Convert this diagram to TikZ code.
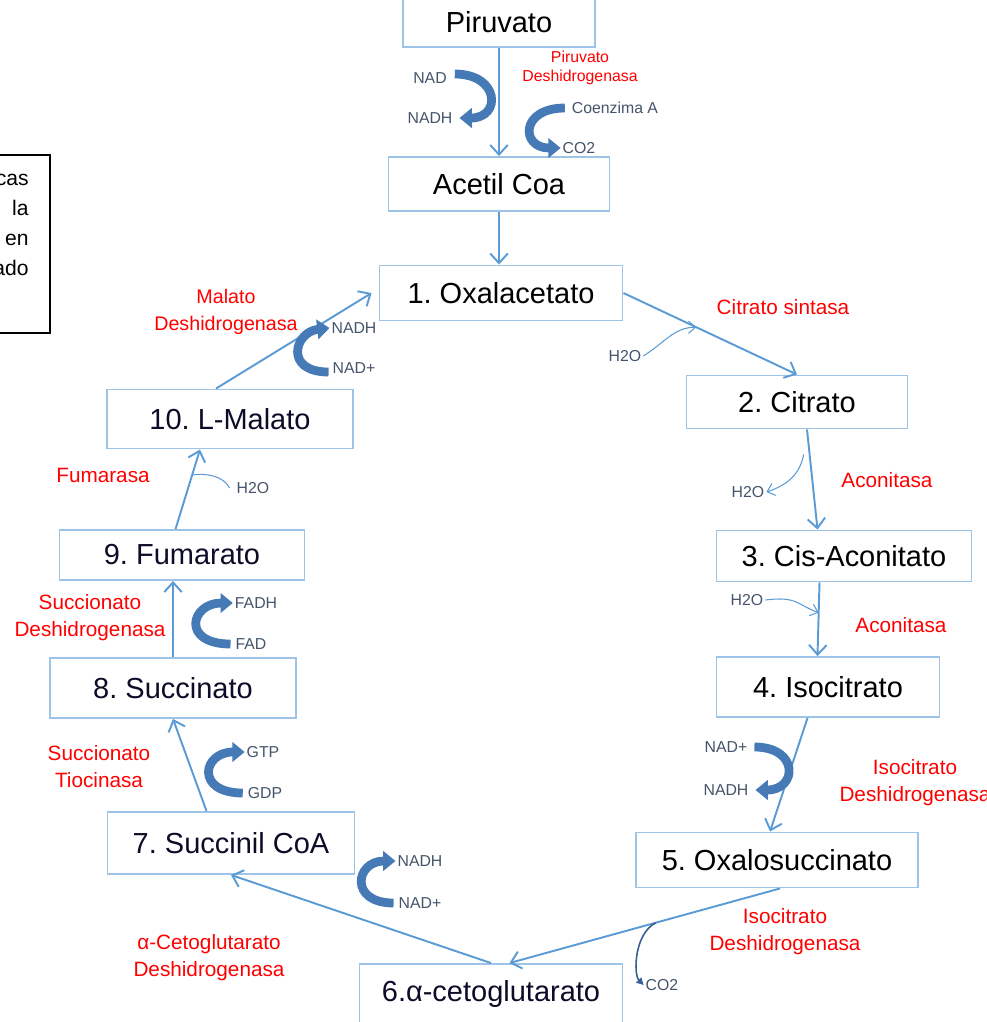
\documentclass[tikz,border=0pt]{standalone}
\usepackage{fontspec}
\setmainfont{Liberation Sans}
\usepackage{xcolor}
\usetikzlibrary{arrows.meta,calc}

\definecolor{borde}{RGB}{157,195,230}
\definecolor{linea}{RGB}{91,155,213}
\definecolor{gruesa}{RGB}{70,122,182}
\definecolor{oscuro}{RGB}{55,96,146}
\definecolor{gris}{RGB}{68,84,106}
\definecolor{tinta}{RGB}{12,12,40}

\tikzset{
 caja/.style={draw=borde, line width=1.1pt, inner sep=0pt, font=\fontsize{16.5}{20}\selectfont},
 enzima/.style={text=red, font=\fontsize{11.8}{15.3}\selectfont, align=center},
 etiq/.style={text=gris, font=\fontsize{9}{11}\selectfont, inner sep=1pt},
 flecha/.style={linea, line width=1.1pt, -{Straight Barb[width=10pt,length=5.5pt]}},
 fina/.style={linea, line width=0.6pt, -{Straight Barb[width=7pt,length=4pt]}},
 giro/.style={gruesa, line width=5pt, -{Triangle[width=11pt,length=7pt]}},
}

\begin{document}
\frenchspacing
\begin{tikzpicture}[x=0.02cm,y=-0.02cm]
 \useasboundingbox (0,0) rectangle (987,1022);

 % nota de la izquierda
 \draw[line width=0.8pt] (-10,155) rectangle (50,333);
 \node[anchor=east, align=right, inner sep=0pt, font=\fontsize{12}{17}\selectfont] (nota) at (29,225) {cas\\la\\en\\ado};

 % cajas
 \node[caja, minimum width=3.84cm, minimum height=1.0cm] (piruvato) at (499,22) {Piruvato};
 \node[caja, minimum width=4.42cm, minimum height=1.08cm] (acetil) at (499,184) {Acetil Coa};
 \node[caja, minimum width=4.86cm, minimum height=1.1cm] (oxal) at (501,293) {1. Oxalacetato};
 \node[caja, minimum width=4.42cm, minimum height=1.06cm] (citr) at (797,402) {2. Citrato};
 \node[caja, minimum width=5.1cm, minimum height=1.02cm] (cis) at (844,556) {3. Cis-Aconitato};
 \node[caja, minimum width=4.46cm, minimum height=1.2cm] (iso) at (828,687) {4. Isocitrato};
 \node[caja, minimum width=5.64cm, minimum height=1.1cm] (oxs) at (777,860) {5. Oxalosuccinato};
 \node[caja, text=tinta, minimum width=5.26cm, minimum height=1.2cm] (ceto) at (491,994) {6.α-cetoglutarato};
 \node[caja, text=tinta, minimum width=4.94cm, minimum height=1.24cm] (scoa) at (231,843) {7. Succinil CoA};
 \node[caja, text=tinta, minimum width=4.92cm, minimum height=1.2cm] (succ) at (173,688) {8. Succinato};
 \node[caja, text=tinta, minimum width=4.9cm, minimum height=1.0cm] (fum) at (182,555) {9. Fumarato};
 \node[caja, text=tinta, minimum width=4.92cm, minimum height=1.18cm] (mal) at (230,419) {10. L-Malato};

 % ciclo
 \draw[flecha] (piruvato.south) -- (piruvato.south |- acetil.north);
 \draw[flecha] (acetil.south) -- (acetil.south |- oxal.north);
 \draw[flecha] (oxal.east) -- (citr.north);
 \draw[flecha] ([xshift=0.2cm]citr.south) -- ([xshift=-0.53cm]cis.north);
 \draw[flecha] ([xshift=-0.49cm]cis.south) -- ([xshift=-0.21cm]iso.north);
 \draw[flecha] ([xshift=-0.41cm]iso.south) -- ([xshift=-0.14cm]oxs.north);
 \draw[flecha] ([xshift=0.06cm]oxs.south) -- ([xshift=0.37cm]ceto.north);
 \draw[flecha] (ceto.north) -- (scoa.south);
 \draw[flecha] ([xshift=-0.49cm]scoa.north) -- (succ.south);
 \draw[flecha] (succ.north) -- (succ.north |- fum.south);
 \draw[flecha] ([xshift=-0.13cm]fum.north) -- ([xshift=-0.6cm]mal.south);
 \draw[flecha] ([xshift=-0.28cm]mal.north) -- ([xshift=-0.14cm]oxal.west);

 % enzimas
 \node[enzima, font=\fontsize{9}{10.5}\selectfont] (pdh) at (580,68) {Piruvato\\Deshidrogenasa};
 \node[enzima] (cs) at (783,307) {Citrato sintasa};
 \node[enzima] (acon1) at (887,480) {Aconitasa};
 \node[enzima] (acon2) at (901,625) {Aconitasa};
 \node[enzima] (idh1) at (915,783) {Isocitrato\\Deshidrogenasa};
 \node[enzima] (idh2) at (785,932) {Isocitrato\\Deshidrogenasa};
 \node[enzima] (akg) at (209,958) {α-Cetoglutarato\\Deshidrogenasa};
 \node[enzima] (stk) at (99,767) {Succionato\\Tiocinasa};
 \node[enzima] (sdh) at (90,618) {Succionato\\Deshidrogenasa};
 \node[enzima] (fumasa) at (103,475) {Fumarasa};
 \node[enzima, font=\fontsize{11.2}{15.3}\selectfont] (mdh) at (226,312) {Malato\\Deshidrogenasa};

 % cofactores
 \node[etiq] (nad1) at (430,78) {NAD};
 \node[etiq] (nadh1) at (430,118) {NADH};
 \node[etiq] (coa) at (615,108) {Coenzima A};
 \node[etiq] (co2a) at (579,148) {CO2};
 \node[etiq] (nadh10) at (354,328) {NADH};
 \node[etiq] (nad10) at (354,368) {NAD+};
 \node[etiq] (h2o1) at (625,356) {H2O};
 \node[etiq] (h2o2) at (748,492) {H2O};
 \node[etiq] (h2o3) at (747,600) {H2O};
 \node[etiq] (nad4) at (726,747) {NAD+};
 \node[etiq] (nadh4) at (726,790) {NADH};
 \node[etiq] (co2b) at (662,985) {CO2};
 \node[etiq] (nadh7) at (420,861) {NADH};
 \node[etiq] (nad7) at (420,903) {NAD+};
 \node[etiq] (gtp) at (263,752) {GTP};
 \node[etiq] (gdp) at (265,793) {GDP};
 \node[etiq] (fadh) at (256,603) {FADH};
 \node[etiq] (fad) at (251,644) {FAD};
 \node[etiq] (h2o9) at (253,488) {H2O};

 % flechas gruesas
 \draw[giro] ([shift={(6,-4)}]nad1.east) .. controls +(45,0) and +(42,0) .. ([xshift=0.1cm]nadh1.east);
 \draw[giro] ([xshift=-0.1cm]coa.west) .. controls +(-45,0) and +(-40,0) .. (co2a.west);
 \draw[giro] ([shift={(-2,4)}]nad10.west) .. controls +(-45,0) and +(-35,4) .. (nadh10.west);
 \draw[giro] ([xshift=0.1cm]nad4.east) .. controls +(45,0) and +(42,0) .. ([xshift=0.1cm]nadh4.east);
 \draw[giro] ([xshift=-0.06cm]fad.west) .. controls +(-50,0) and +(-42,0) .. (fadh.west);
 \draw[giro] ([xshift=-0.06cm]gdp.west) .. controls +(-48,0) and +(-42,0) .. (gtp.west);
 \draw[giro] ([xshift=-0.06cm]nad7.west) .. controls +(-45,0) and +(-40,0) .. (nadh7.west);

 % flechas finas
 \draw[fina] (h2o1.east) .. controls +(22,-14) and +(-22,0) .. ($(oxal.east)!0.42!(citr.north)$);
 \draw[fina] ($([xshift=0.2cm]citr.south)!0.25!([xshift=-0.53cm]cis.north)$) ++(-6,0) .. controls +(-4,22) and +(18,-6) .. (h2o2.east);
 \draw[fina] (h2o3.east) .. controls +(32,-4) and +(-22,-8) .. ($([xshift=-0.49cm]cis.south)!0.41!([xshift=-0.21cm]iso.north)$);
 \draw[linea, line width=0.6pt] ([xshift=-0.1cm]h2o9.west) .. controls +(-6,-12) and +(14,-2) .. ($([xshift=-0.13cm]fum.north)!0.68!([xshift=-0.6cm]mal.south)$);
 \draw[oscuro, line width=0.9pt, -{Triangle[width=4pt,length=4pt]}] ($([xshift=0.06cm]oxs.south)!0.46!([xshift=0.37cm]ceto.north)$) .. controls +(-22,12) and +(-10,-10) .. (co2b.west);
\end{tikzpicture}
\end{document}
